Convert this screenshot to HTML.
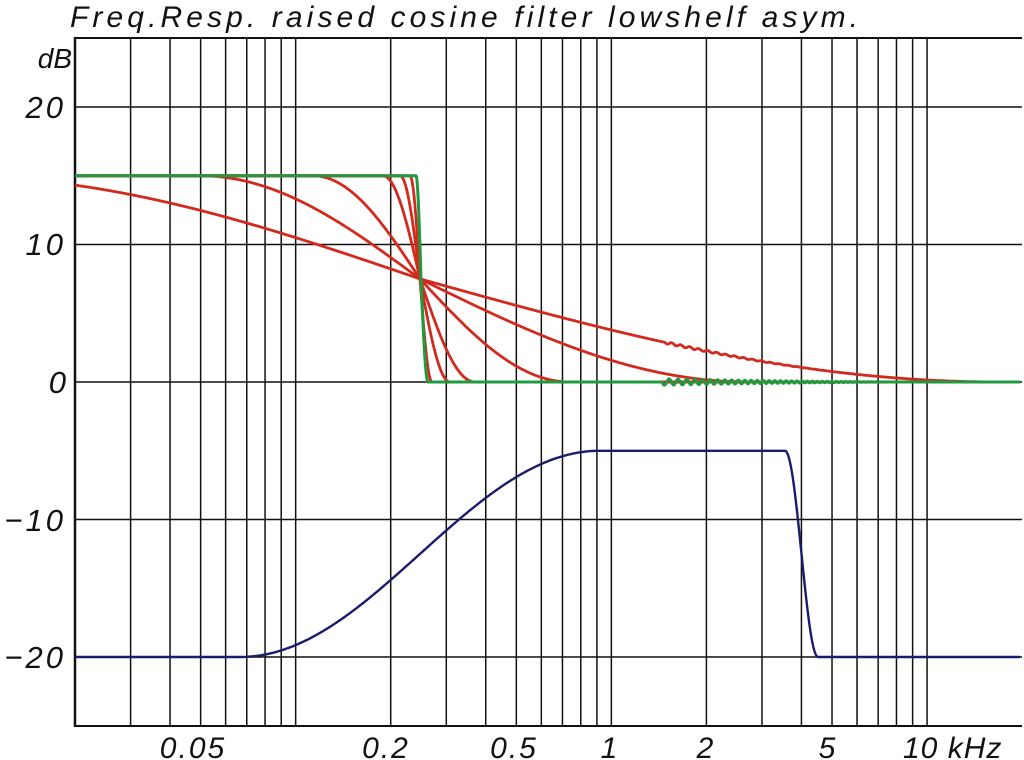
<!DOCTYPE html>
<html><head><meta charset="utf-8"><style>
html,body{margin:0;padding:0;background:#fff;}
svg{display:block;}
text{font-family:"Liberation Sans",sans-serif;font-style:italic;fill:#111;}
</style></head><body>
<svg id="s" width="1024" height="760" viewBox="0 0 1024 760" xmlns="http://www.w3.org/2000/svg">
<text x="70" y="27" font-size="30" textLength="788" lengthAdjust="spacing">Freq.Resp. raised cosine filter lowshelf asym.</text>
<text x="72" y="68" font-size="28" text-anchor="end">dB</text>
<text x="66" y="118" font-size="31" text-anchor="end" letter-spacing="3">20</text>
<text x="66" y="255" font-size="31" text-anchor="end" letter-spacing="3">10</text>
<text x="66" y="393" font-size="31" text-anchor="end">0</text>
<text x="66" y="531" font-size="31" text-anchor="end" letter-spacing="3">−10</text>
<text x="66" y="668" font-size="31" text-anchor="end" letter-spacing="3">−20</text>
<g font-size="30" text-anchor="middle" letter-spacing="2">
<text x="193" y="758">0.05</text>
<text x="386" y="758">0.2</text>
<text x="514" y="758">0.5</text>
<text x="610" y="758">1</text>
<text x="706" y="758">2</text>
<text x="828" y="758">5</text>
</g>
<text x="903" y="758" font-size="30" letter-spacing="1">10 kHz</text>
<g id="grid" stroke="#111" stroke-width="1.5"></g>
<g id="curves" fill="none" stroke-width="2.8" stroke-linejoin="round"></g>
</svg>
<script>
var ns="http://www.w3.org/2000/svg";
function X(f){return 75+315.7*Math.log10(f/0.02);}
function Y(db){return 382-13.75*db;}
var g=document.getElementById('grid');
function line(x1,y1,x2,y2,w){var l=document.createElementNS(ns,'line');l.setAttribute('x1',x1);l.setAttribute('y1',y1);l.setAttribute('x2',x2);l.setAttribute('y2',y2);if(w)l.setAttribute('stroke-width',w);g.appendChild(l);}
[0.03,0.04,0.05,0.06,0.07,0.08,0.09,0.1,0.2,0.3,0.4,0.5,0.6,0.7,0.8,0.9,1,2,3,4,5,6,7,8,9,10].forEach(function(f){var x=X(f);line(x,38,x,726);});
[20,10,0,-10,-20].forEach(function(d){line(75,Y(d),1022,Y(d));});
line(75,38,1022,38,2);line(75,726,1022,726,2);line(75,37,75,727,2.5);
var c=document.getElementById('curves');
function path(pts,col,w){var p=document.createElementNS(ns,'path');p.setAttribute('d','M'+pts.map(function(q){return q[0].toFixed(1)+' '+q[1].toFixed(1);}).join('L'));p.setAttribute('stroke',col);if(w)p.setAttribute('stroke-width',w);c.appendChild(p);}
function shelf(x,L,R,cx){var d=x-cx;var t;
 if(d<=-L)return 15; if(d>=R)return 0;
 t=d<0?0.5*(d+L)/L:0.5+0.5*d/R;
 return 15*(1+Math.cos(Math.PI*t))/2;}
var reds=[[10,12],[20,30],[37,55],[107,150],[220,330],[475,580]];
reds.forEach(function(r,i){var pts=[];for(var x=75;x<=1020;x+=1){var v=Y(shelf(x,r[0],r[1],420));
 if(i==5&&x>665&&x<830){v+=1.2*Math.sin((x-665)*0.7)*(830-x)/165;}
 pts.push([x,v]);}path(pts,'#d32a1f');});
var gp=[];for(var x=75;x<=1020;x+=0.5){var v=Y(shelf(x,5,7,421));
 if(x>662&&x<900){var a=3.2*Math.pow((900-x)/238,1.3);var ph=(x-662)*(0.65+(x-662)*0.002);v+=a*Math.sin(ph);}
 gp.push([x,v]);}
path(gp,'#1f9a3e',3);
var bp=[];for(var x=75;x<=1020;x+=1){var db;
 if(x<240)db=-20;else if(x<600){var t=(x-240)/360;db=-20+15*(1-Math.cos(Math.PI*t))/2;}
 else if(x<785)db=-5;else if(x<818){var t=(x-785)/33;db=-5-15*(1-Math.cos(Math.PI*t))/2;}else db=-20;
 bp.push([x,Y(db)]);}
path(bp,'#1c1a6b',2.4);
</script>
</body></html>
